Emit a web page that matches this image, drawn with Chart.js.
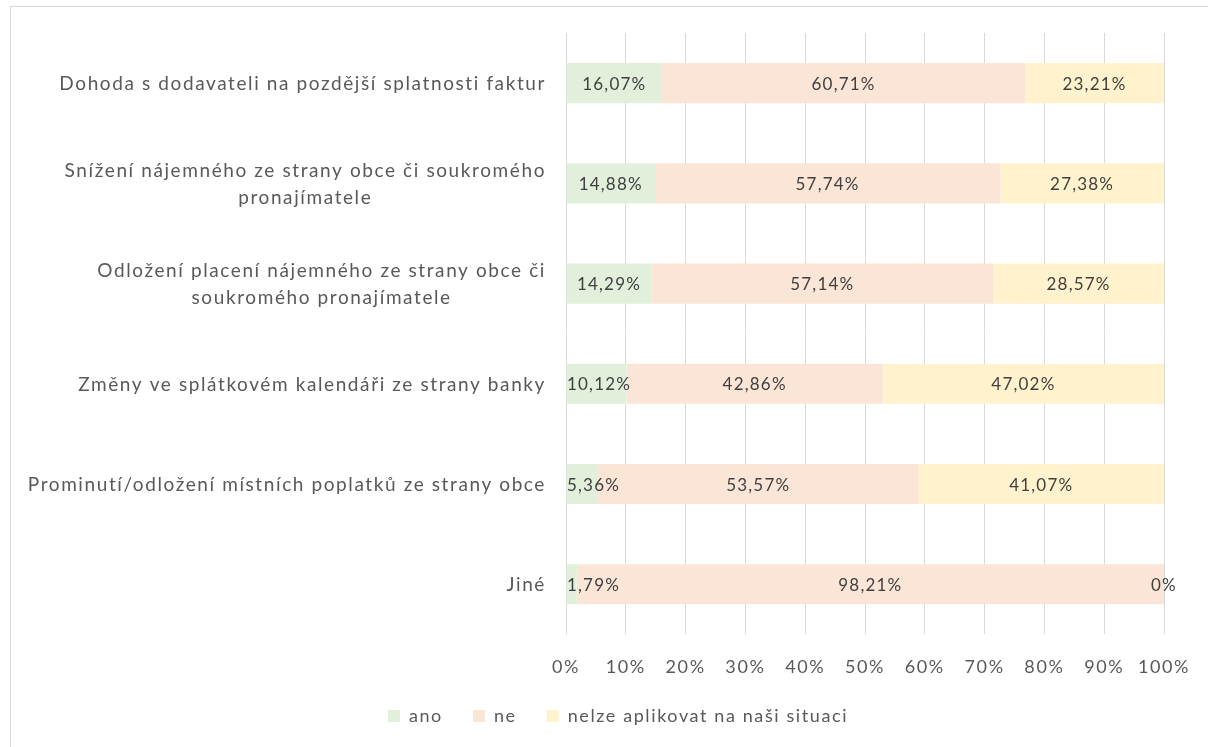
<!DOCTYPE html>
<html>
<head>
<meta charset="utf-8">
<script src="https://cdn.jsdelivr.net/npm/chart.js@4"></script>
<style>
  html, body { margin: 0; padding: 0; background: #fff; }
  #wrap { position: relative; width: 1208px; height: 747px; overflow: hidden; }
  #frame { position: absolute; left: 10px; top: 6px; width: 1300px; height: 900px; border: 1px solid #d9d9d9; box-sizing: border-box; pointer-events: none; }
  #c { position: absolute; left: 0; top: 0; }
</style>
</head>
<body>
<div id="wrap">
  <div id="frame"></div>
  <canvas id="c" width="1208" height="747"></canvas>
</div>
<script>
const categories = [
  ["Dohoda s dodavateli na pozdější splatnosti faktur"],
  ["Snížení nájemného ze strany obce či soukromého", "pronajímatele"],
  ["Odložení placení nájemného ze strany obce či", "soukromého pronajímatele"],
  ["Změny ve splátkovém kalendáři ze strany banky"],
  ["Prominutí/odložení místních poplatků ze strany obce"],
  ["Jiné"]
];
const seriesNames = ["ano", "ne", "nelze aplikovat na naši situaci"];
const ano   = [16.07, 14.88, 14.29, 10.12, 5.36, 1.79];
const ne    = [60.71, 57.74, 57.14, 42.86, 53.57, 98.21];
const nelze = [23.21, 27.38, 28.57, 47.02, 41.07, 0];
const xTicks = [0, 10, 20, 30, 40, 50, 60, 70, 80, 90, 100];

const FONT = "Lato, 'Open Sans', sans-serif";
const colors = ["#e2efda", "#fbe5d6", "#fff2cc"];
const SPACING = "1.6px";

function fmt(v) {
  if (v === 0) return "0%";
  return v.toFixed(2).replace(".", ",") + "%";
}

const spacingPlugin = {
  id: 'spacing',
  beforeUpdate(chart) { chart.ctx.letterSpacing = SPACING; },
  beforeLayout(chart) { chart.ctx.letterSpacing = SPACING; },
  beforeDraw(chart) { chart.ctx.letterSpacing = SPACING; }
};

const yLabelPlugin = {
  id: 'yLabels',
  afterDraw(chart) {
    const ctx = chart.ctx;
    const ys = chart.scales.y;
    const right = chart.chartArea.left - 20;
    ctx.save();
    ctx.letterSpacing = "1.6px";
    ctx.font = "19px " + FONT;
    ctx.fillStyle = "#595959";
    ctx.textBaseline = "middle";
    ctx.textAlign = "center";
    const lh = 27;
    categories.forEach((lines, i) => {
      const y = ys.getPixelForTick(i);
      const w = Math.max(...lines.map(l => ctx.measureText(l).width));
      const cx = right - w / 2;
      const y0 = y - (lines.length - 1) * lh / 2 + 1;
      lines.forEach((l, j) => ctx.fillText(l, cx, y0 + j * lh));
    });
    ctx.restore();
  }
};

const dataLabelPlugin = {
  id: 'dataLabels',
  afterDatasetsDraw(chart) {
    const ctx = chart.ctx;
    const left = chart.chartArea.left;
    ctx.save();
    ctx.letterSpacing = "1.2px";
    ctx.font = "17px " + FONT;
    ctx.fillStyle = "#404040";
    ctx.textBaseline = "middle";
    ctx.textAlign = "center";
    chart.data.datasets.forEach((ds, di) => {
      const meta = chart.getDatasetMeta(di);
      meta.data.forEach((bar, i) => {
        const v = ds.data[i];
        const txt = fmt(v);
        const w = ctx.measureText(txt).width;
        const props = bar.getProps(['x', 'base', 'y'], true);
        let cx = (props.x + props.base) / 2;
        cx = Math.max(cx, left + w / 2 + 1);
        ctx.fillText(txt, cx, props.y + 1);
      });
    });
    ctx.restore();
  }
};

const legendShift = {
  id: 'legendShift',
  afterLayout(chart) {
    const lg = chart.legend;
    if (lg) { lg.left += 36; lg.right += 36; }
  }
};

new Chart(document.getElementById('c'), {
  type: 'bar',
  data: {
    labels: categories,
    datasets: [
      { label: seriesNames[0], data: ano, backgroundColor: colors[0] },
      { label: seriesNames[1], data: ne, backgroundColor: colors[1] },
      { label: seriesNames[2], data: nelze, backgroundColor: colors[2] }
    ]
  },
  options: {
    indexAxis: 'y',
    responsive: false,
    animation: false,
    devicePixelRatio: 1,
    layout: { padding: { top: 33, left: 0, right: 44, bottom: 12 } },
    datasets: { bar: { categoryPercentage: 0.4, barPercentage: 1, borderWidth: 0 } },
    scales: {
      x: {
        stacked: true,
        min: 0, max: 100,
        afterBuildTicks(scale) { scale.ticks = xTicks.map(v => ({ value: v })); },
        afterFit(scale) { scale.height = scale.height - 23; scale.paddingLeft = 0; scale.paddingRight = 0; },
        grid: { color: "#d9d9d9", lineWidth: 1, drawTicks: false },
        border: { display: false },
        ticks: {
          padding: 22,
          color: "#595959",
          font: { family: FONT, size: 18 },
          callback: v => v + "%"
        }
      },
      y: {
        stacked: true,
        grid: { display: false, drawTicks: false },
        border: { display: false },
        ticks: { display: false },
        afterFit(scale) { scale.width = 566; }
      }
    },
    plugins: {
      legend: {
        position: 'bottom',
        labels: {
          boxWidth: 12, boxHeight: 12, padding: 30,
          color: "#595959",
          font: { family: FONT, size: 18 }
        }
      },
      tooltip: { enabled: false }
    }
  },
  plugins: [spacingPlugin, yLabelPlugin, dataLabelPlugin, legendShift]
});
</script>
</body>
</html>
